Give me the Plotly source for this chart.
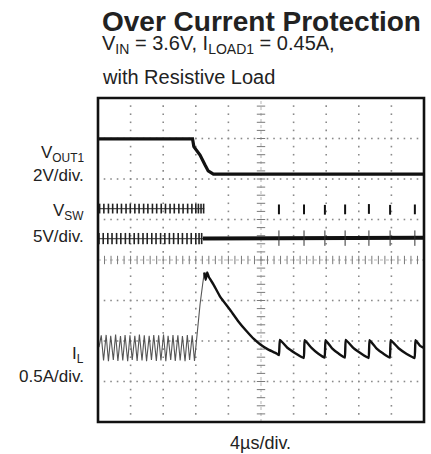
import plotly.graph_objects as go

# ---------------- data (in scope divisions: x 0..10, y 0..8) ----------------
vout_x = [0.0, 2.90, 2.94, 3.13, 3.28, 3.38, 3.54, 10.0]
vout_y = [6.99, 6.99, 6.80, 6.59, 6.35, 6.20, 6.12, 6.12]

vsw_hi_x = [0.05, 0.18, 0.32, 0.45, 0.59, 0.72, 0.86, 0.99, 1.13, 1.26, 1.40, 1.53, 1.67,
            1.80, 1.94, 2.07, 2.21, 2.34, 2.48, 2.61, 2.75, 2.88, 3.00, 3.08, 3.16, 3.24]
vsw_lo_x = [0.03, 0.16, 0.30, 0.43, 0.57, 0.70, 0.84, 0.97, 1.11, 1.24, 1.38, 1.51, 1.65,
            1.78, 1.92, 2.05, 2.19, 2.32, 2.46, 2.59, 2.73, 2.86, 3.00, 3.10, 3.18]
vsw_hi_level = 5.27
vsw_lo_level = 4.53
vsw_flat_x = [3.22, 10.0]
vsw_flat_y = [4.53, 4.55]
vsw_spike_x = [5.55, 6.32, 6.96, 7.58, 8.31, 8.96, 9.72]
vsw_spike_y = [5.25, 5.25, 5.24, 5.25, 5.26, 5.24, 5.25]

il_ripple_x = [0.03, 0.10, 0.17, 0.25, 0.32, 0.39, 0.47, 0.54, 0.61, 0.69, 0.76, 0.83, 0.91,
               0.98, 1.05, 1.13, 1.20, 1.27, 1.35, 1.42, 1.49, 1.57, 1.64, 1.71, 1.79, 1.86,
               1.93, 2.01, 2.08, 2.15, 2.23, 2.30, 2.37, 2.45, 2.52, 2.59, 2.67, 2.74, 2.81,
               2.89, 2.96, 3.02, 3.05, 3.13, 3.21, 3.26]
il_ripple_y = [1.85, 2.14, 1.52, 2.15, 1.50, 2.13, 1.53, 2.16, 1.51, 2.12, 1.52, 2.15, 1.50,
               2.14, 1.53, 2.13, 1.51, 2.16, 1.52, 2.14, 1.50, 2.13, 1.53, 2.15, 1.51, 2.14,
               1.52, 2.16, 1.50, 2.13, 1.53, 2.15, 1.51, 2.14, 1.52, 2.12, 1.50, 2.15, 1.53,
               2.14, 1.51, 2.05, 2.30, 2.90, 3.40, 3.69]
il_x = [3.26, 3.30, 3.35, 3.40, 3.54, 3.75, 4.05, 4.30, 4.56, 4.78, 4.97, 5.20, 5.48, 5.55,
        5.58, 5.80, 6.05, 6.31,
        6.34, 6.55, 6.75, 6.95,
        6.98, 7.18, 7.38, 7.57,
        7.60, 7.83, 8.07, 8.30,
        8.33, 8.54, 8.75, 8.95,
        8.98, 9.22, 9.47, 9.71,
        9.74, 9.88, 10.0]
il_y = [3.69, 3.51, 3.69, 3.58, 3.40, 3.09, 2.77, 2.49, 2.24, 2.05, 1.92, 1.80, 1.69, 1.65,
        2.03, 1.84, 1.70, 1.58,
        2.02, 1.83, 1.69, 1.59,
        2.02, 1.82, 1.69, 1.59,
        2.03, 1.83, 1.69, 1.58,
        2.02, 1.82, 1.69, 1.59,
        2.02, 1.82, 1.68, 1.58,
        2.02, 1.88, 1.83]

label_texts = ["V<sub>OUT1</sub>", "2V/div.", "V<sub>SW</sub>", "5V/div.",
               "I<sub>L</sub>", "0.5A/div."]
title_text = "<b>Over Current Protection</b>"
subtitle_lines = ["V<sub>IN</sub> = 3.6V, I<sub>LOAD1</sub> = 0.45A,", "with Resistive Load"]
xaxis_label = "4µs/div."

# ---------------- layout geometry ----------------
W, H = 431, 454
L, R, T, B = 98, 424, 98, 422
NX, NY = 10, 8


def pxx(x):
    return (x - L) / (R - L)


def pyy(y):
    return (B - y) / (B - T)


FONT = "Liberation Sans, Arial, sans-serif"

fig = go.Figure()

# graticule dots
gx, gy = [], []
for i in range(1, NX):
    if i == 5:
        continue
    for k in range(0, NY * 5 + 1):
        gx.append(i)
        gy.append(k / 5)
for j in range(1, NY):
    if j == 4:
        continue
    for k in range(0, NX * 5 + 1):
        gx.append(k / 5)
        gy.append(j)
fig.add_trace(go.Scatter(x=gx, y=gy, mode="markers",
                         marker=dict(symbol="square", size=1.6, color="#8a8a8a", line_width=0),
                         hoverinfo="skip"))
# center cross lines with ticks
fig.add_trace(go.Scatter(x=[0, 10], y=[4, 4], mode="lines",
                         line=dict(color="#b5b5b5", width=1, dash="3px,3px"), hoverinfo="skip"))
fig.add_trace(go.Scatter(x=[5, 5], y=[0, 8], mode="lines",
                         line=dict(color="#b5b5b5", width=1, dash="3px,3px"), hoverinfo="skip"))
fig.add_trace(go.Scatter(x=[k / 5 for k in range(0, 51)], y=[4] * 51, mode="markers",
                         marker=dict(symbol="line-ns", size=6, color="#7a7a7a",
                                     line=dict(width=1, color="#7a7a7a")), hoverinfo="skip"))
fig.add_trace(go.Scatter(x=[5] * 41, y=[k / 5 for k in range(0, 41)], mode="markers",
                         marker=dict(symbol="line-ew", size=6, color="#7a7a7a",
                                     line=dict(width=1, color="#7a7a7a")), hoverinfo="skip"))

# VOUT1
fig.add_trace(go.Scatter(x=vout_x, y=vout_y, mode="lines",
                         line=dict(color="#111", width=3.2)))

# VSW before: two bands of dashes
fig.add_trace(go.Scatter(x=[0, 3.26], y=[vsw_hi_level] * 2, mode="lines",
                         line=dict(color="#555", width=1.2)))
fig.add_trace(go.Scatter(x=[0, 3.22], y=[vsw_lo_level] * 2, mode="lines",
                         line=dict(color="#555", width=1.2)))
fig.add_trace(go.Scatter(x=vsw_hi_x, y=[vsw_hi_level] * len(vsw_hi_x), mode="markers",
                         marker=dict(symbol="line-ns", size=7, color="#222",
                                     line=dict(width=1.6, color="#222"))))
fig.add_trace(go.Scatter(x=vsw_lo_x, y=[vsw_lo_level] * len(vsw_lo_x), mode="markers",
                         marker=dict(symbol="line-ns", size=8, color="#222",
                                     line=dict(width=1.6, color="#222"))))
# VSW after
fig.add_trace(go.Scatter(x=vsw_flat_x, y=vsw_flat_y, mode="lines",
                         line=dict(color="#111", width=4)))
fig.add_trace(go.Scatter(x=vsw_spike_x, y=vsw_spike_y, mode="markers",
                         marker=dict(symbol="line-ns", size=7, color="#111",
                                     line=dict(width=2, color="#111"))))
fig.add_trace(go.Scatter(x=vsw_spike_x, y=[4.54] * len(vsw_spike_x), mode="markers",
                         marker=dict(symbol="line-ns", size=11, color="#333",
                                     line=dict(width=1, color="#333"))))

# IL
fig.add_trace(go.Scatter(x=il_ripple_x, y=il_ripple_y, mode="lines",
                         line=dict(color="#555", width=1.1)))
fig.add_trace(go.Scatter(x=il_x, y=il_y, mode="lines",
                         line=dict(color="#111", width=2.4, shape="spline", smoothing=0.3)))

# frame
fig.add_shape(type="rect", xref="paper", yref="paper", x0=0, x1=1, y0=0, y1=1,
              line=dict(color="#111", width=2.6))

# texts
ann = []
ann.append(dict(text=title_text, x=pxx(100), y=pyy(21), xanchor="left", yanchor="middle",
                font=dict(family=FONT, size=28, color="#222")))
ann.append(dict(text=subtitle_lines[0], x=pxx(100), y=pyy(45), xanchor="left", yanchor="middle",
                font=dict(family=FONT, size=20, color="#222")))
ann.append(dict(text=subtitle_lines[1], x=pxx(100), y=pyy(77), xanchor="left", yanchor="middle",
                font=dict(family=FONT, size=20, color="#222")))
label_y = [154, 175, 212, 236, 355, 376]
for t, yy in zip(label_texts, label_y):
    ann.append(dict(text=t, x=pxx(86), y=pyy(yy), xanchor="right", yanchor="middle",
                    font=dict(family=FONT, size=17, color="#222")))
ann.append(dict(text=xaxis_label, x=pxx(260), y=pyy(443), xanchor="center", yanchor="middle",
                font=dict(family=FONT, size=18, color="#222")))
for a in ann:
    a.update(xref="paper", yref="paper", showarrow=False)

fig.update_layout(
    width=W, height=H,
    margin=dict(l=L, r=W - R, t=T, b=H - B, pad=0),
    paper_bgcolor="white", plot_bgcolor="white",
    showlegend=False,
    annotations=ann,
    xaxis=dict(range=[0, NX], showgrid=False, zeroline=False, showticklabels=False,
               ticks="", showline=False, fixedrange=True),
    yaxis=dict(range=[0, NY], showgrid=False, zeroline=False, showticklabels=False,
               ticks="", showline=False, fixedrange=True),
)

fig.write_html("out.html", config={"displayModeBar": False},
               post_script="document.body.style.margin='0';document.body.style.overflow='hidden';")
